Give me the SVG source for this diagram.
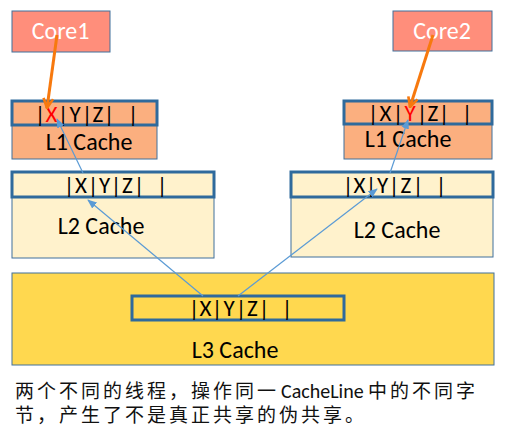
<svg xmlns="http://www.w3.org/2000/svg" width="507" height="436" viewBox="0 0 507 436">
<style>
.box{stroke:#41719C;stroke-width:1}
.core{fill:#FF8E7B}
.l1{fill:#FBAF7F}
.l2{fill:#FFF2CC}
.l3{fill:#FFD84F}
.row{fill:none;stroke:#2F6A9C;stroke-width:3}
.lbl{font-family:Carlito,Lato,"Liberation Sans",sans-serif;font-size:24px;fill:#000;text-anchor:middle}
.clbl{font-family:Carlito,Lato,"Liberation Sans",sans-serif;font-size:24px;fill:#fff;text-anchor:middle}
.cells{font-family:Carlito,Lato,"Liberation Sans",sans-serif;font-size:23px;fill:#000;text-anchor:middle}
.red{fill:#FF0000}
.og{stroke:#F7790E;stroke-width:3;fill:none}
.bl{stroke:#5B9BD5;stroke-width:1.2;fill:none}
.cap{font-family:"Noto Sans CJK SC",sans-serif;font-size:19px;fill:#111;letter-spacing:3px}
.lat{font-family:Carlito,Lato,"Liberation Sans",sans-serif;font-size:20px;letter-spacing:0}
</style>
<defs>
<marker id="oa" viewBox="0 0 10 10" refX="9" refY="5" markerWidth="4" markerHeight="4" orient="auto" markerUnits="strokeWidth">
<path d="M1,1 L9,5 L1,9" fill="none" stroke="#F7790E" stroke-width="2.2"/>
</marker>
<marker id="ba" viewBox="0 0 10 10" refX="9" refY="5" markerWidth="8" markerHeight="8" orient="auto" markerUnits="strokeWidth">
<path d="M0,1 L10,5 L0,9 Z" fill="#5B9BD5"/>
</marker>
</defs>

<g id="l3">
<rect class="box l3" x="12" y="273" width="482" height="92"/>
<rect class="row" x="132" y="296" width="212" height="24"/>
<text class="cells" x="194 205.5 217 229 241 252.5 264 275.5 287" y="316">|X|Y|Z| |</text>
<text class="lbl" x="235" y="358">L3 Cache</text>
</g>

<g id="l2left">
<rect class="box l2" x="12" y="172" width="202" height="86"/>
<rect class="row" x="12" y="172" width="202" height="25"/>
<text class="cells" x="69 81 93 104.5 116 127.5 139 150.5 162" y="193">|X|Y|Z| |</text>
<text class="lbl" x="101" y="234">L2 Cache</text>
</g>

<g id="l2right">
<rect class="box l2" x="291" y="172" width="202" height="85"/>
<rect class="row" x="291" y="172" width="202" height="25"/>
<text class="cells" x="348 359.5 371 382.5 394 406 418 429.5 441" y="193">|X|Y|Z| |</text>
<text class="lbl" x="397" y="238">L2 Cache</text>
</g>

<g id="l1left">
<rect class="box l1" x="12" y="101" width="145" height="58"/>
<rect class="row" x="12" y="101" width="145" height="24"/>
<text class="cells" y="122"><tspan x="40">|</tspan><tspan class="red" x="51.5">X</tspan><tspan x="63 75 87 98 109 121 133">|Y|Z| |</tspan></text>
<text class="lbl" x="89" y="150">L1 Cache</text>
</g>

<g id="l1right">
<rect class="box l1" x="344" y="101" width="148" height="58"/>
<rect class="row" x="344" y="101" width="148" height="23"/>
<text class="cells" y="121"><tspan x="373 385.5 398">|X|</tspan><tspan class="red" x="410">Y</tspan><tspan x="422 433 444 455.5 467">|Z| |</tspan></text>
<text class="lbl" x="408" y="147">L1 Cache</text>
</g>

<g id="core1">
<rect class="box core" x="12" y="11" width="98" height="41"/>
<text class="clbl" x="60.5" y="39">Core1</text>
</g>

<g id="core2">
<rect class="box core" x="393" y="11" width="99" height="40"/>
<text class="clbl" x="442" y="39">Core2</text>
</g>

<g id="connectors">
<line class="og" x1="57" y1="35" x2="47" y2="108" marker-end="url(#oa)"/>
<line class="og" x1="433" y1="35" x2="410" y2="107" marker-end="url(#oa)"/>
<line class="bl" x1="203" y1="296" x2="88" y2="200" marker-end="url(#ba)"/>
<line class="bl" x1="83" y1="173" x2="57" y2="119" marker-end="url(#ba)"/>
<line class="bl" x1="238" y1="296" x2="377" y2="189" marker-end="url(#ba)"/>
<line class="bl" x1="390" y1="173" x2="408" y2="120" marker-end="url(#ba)"/>
</g>

<text class="cap" y="397.5"><tspan x="15">两个不同的线程，操作同一</tspan><tspan class="lat" x="281">CacheLine</tspan><tspan x="368">中的不同字</tspan></text>
<text class="cap" x="15" y="422">节，产生了不是真正共享的伪共享。</text>
</svg>
